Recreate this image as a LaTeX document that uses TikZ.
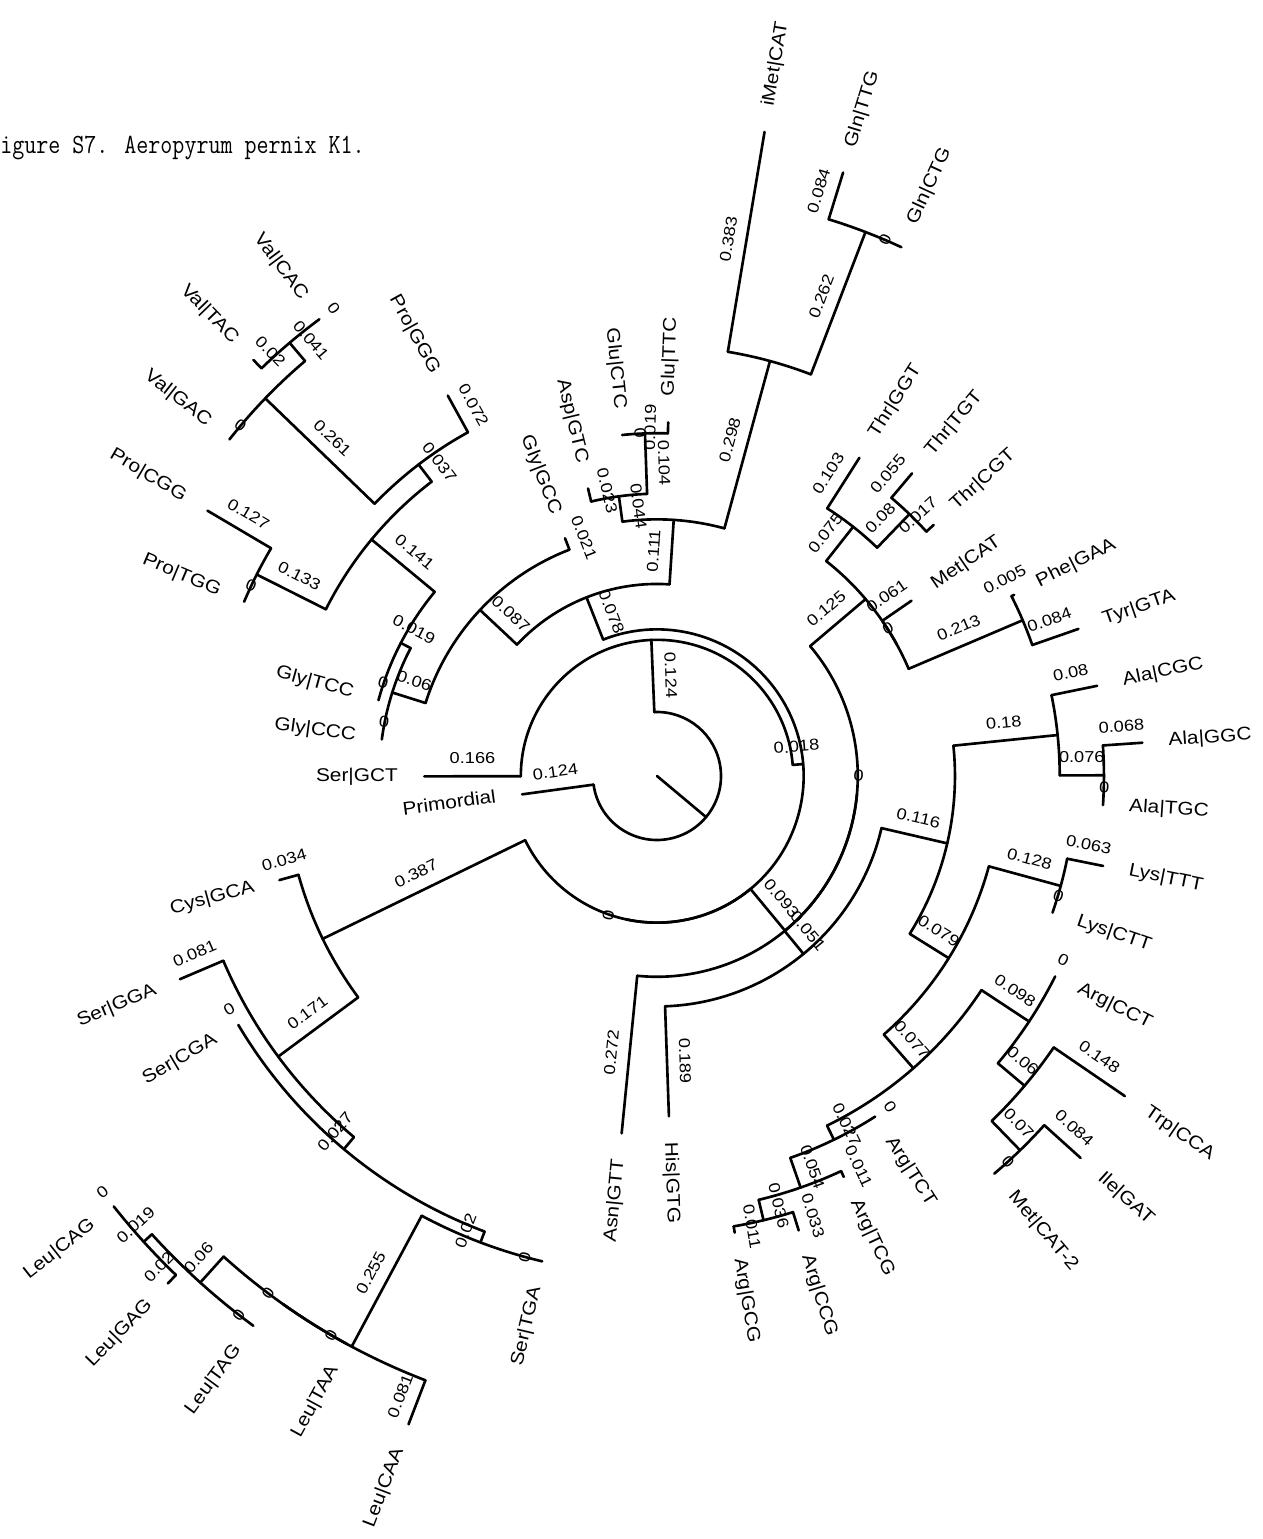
\documentclass[tikz,border=0pt]{standalone}
\usepackage{fontspec}
\usepackage{graphicx}
\setmainfont{Liberation Sans}
\newfontfamily\tipfont[FakeStretch=1.13]{Liberation Sans}
\newfontfamily\lenfont[FakeStretch=1.15]{Liberation Sans}
\usetikzlibrary{calc}

\tikzset{
  branch/.style={line width=1.5pt, line cap=round},
  tiplabel/.style={font=\tipfont\fontsize{10.5}{12}\selectfont, inner sep=0pt},
  lenlabel/.style={font=\lenfont\fontsize{9}{10}\selectfont, inner sep=0pt},
}

\begin{document}
\begin{tikzpicture}[x=0.2mm, y=0.2mm]
    \useasboundingbox (-657,-763) rectangle (606,776);
    % Title, cut at the left edge
    \node[anchor=base west, inner sep=0pt] (title) at (-657,622.7)
        {\scalebox{0.84}[1]{\ttfamily\fontsize{15.8}{18}\selectfont igure S7. Aeropyrum pernix K1.}};
    % Root edge
    \coordinate (root) at (0,0);
    \coordinate (Na) at (320.06:64);
    \draw[branch] (root) -- (Na);
    % Radial branches: name/angle/parent radius/child radius/length
    \foreach \n/\ang/\rp/\rc/\w in {
        Prim/187.75/64/136.17/0.124, B/452.38/64/136.17/0.124,
        SerGCT/540.09/136.17/232.78/0.166, C/364.67/136.17/146.65/0.018,
        G1/471.54/146.65/192.05/0.078, G2/446.26/192.05/256.65/0.111,
        IQ/434.77/256.65/430.09/0.298, iMet/440.52/430.09/653.00/0.383,
        GQ/429.03/430.09/582.57/0.262, GlnTTG/432.86/582.57/631.46/0.084,
        G3/457.75/256.65/282.26/0.044, GE/452.01/282.26/342.79/0.104,
        GluTTC/448.18/342.79/353.85/0.019, AspGTC/463.49/282.26/295.65/0.023,
        G4/496.83/192.05/242.68/0.087, GlyGCC/471.15/242.68/254.90/0.021,
        G5/522.50/242.68/277.60/0.06, G6/512.56/277.60/288.66/0.019,
        G7/500.36/288.66/370.72/0.141, PP/513.28/370.72/448.13/0.133,
        ProCGG/509.45/448.13/522.04/0.127, G8/487.43/370.72/392.25/0.037,
        ProGGG/478.81/392.25/434.15/0.072, Vg/496.05/392.25/544.15/0.261,
        VP/490.30/544.15/568.01/0.041, ValTAC/494.13/568.01/579.65/0.02,
        N1/205.97/146.65/371.88/0.387, CysGCA/195.41/371.88/391.67/0.034,
        N2/216.53/371.88/471.40/0.171, SerGGA/203.07/471.40/518.54/0.081,
        N3/230.00/471.40/487.11/0.027, N4/249.27/487.11/498.75/0.02,
        L1/241.85/498.75/647.16/0.255, LeuCAA/249.03/647.16/694.30/0.081,
        L2/227.96/647.16/682.08/0.06, L3/222.22/682.08/693.14/0.019,
        LeuGAG/226.05/693.14/704.78/0.02,
        V/309.61/146.65/200.78/0.093, AsnGTT/264.35/200.78/359.08/0.272,
        R/309.47/200.78/230.46/0.051, HisGTG/272.01/230.46/340.46/0.189,
        P/346.93/230.46/297.97/0.116, A1/365.84/297.97/402.73/0.18,
        AlaCGC/371.58/402.73/449.29/0.08, A2/360.09/402.73/446.96/0.076,
        AlaGGC/363.92/446.96/486.54/0.068, Q/328.02/297.97/343.95/0.079,
        LK/344.77/343.95/418.45/0.128, LysTTT/348.60/418.45/455.12/0.063,
        Q2/311.26/343.95/388.76/0.077, M1/326.58/388.76/445.80/0.098,
        M2/319.88/445.80/480.72/0.06, TrpCCA/325.62/480.72/566.86/0.148,
        M3/314.13/480.72/521.46/0.07, IleGAT/317.96/521.46/570.35/0.084,
        Ag1/295.94/388.76/404.47/0.027, Ag2/289.24/404.47/435.90/0.054,
        ArgTCG/294.98/435.90/442.30/0.011, Ag3/283.49/435.90/456.85/0.036,
        ArgGCG/279.66/456.85/463.25/0.011, ArgCCG/287.32/456.85/476.06/0.033,
        T1/400.30/200.78/273.53/0.125, PT/383.07/273.53/397.50/0.213,
        PheGAA/386.90/397.50/400.41/0.005, TyrGTA/379.24/397.50/446.39/0.084,
        MetCAT/394.56/273.53/309.03/0.061, Th1/411.79/273.53/317.18/0.075,
        ThrGGT/417.54/317.18/377.13/0.103, Th2/406.05/317.18/363.74/0.08,
        ThrTGT/409.88/363.74/395.75/0.055, ThrCGT/402.22/363.74/373.63/0.017} {
        \coordinate (\n-b) at (\ang:\rp);
        \coordinate (\n) at (\ang:\rc);
        \draw[branch] (\n-b) -- (\n);
        \pgfmathsetmacro{\rot}{cos(\ang)<0 ? \ang-180 : \ang}
        \path ($(\n-b)!0.5!(\n)$) ++(\rot+90:18) node[lenlabel, rotate=\rot] {\w};
    }
    % Zero-length branches: name/angle/radius
    \foreach \n/\ang/\rad in {
        C1/257.79/146.65, V2/354.88/200.78, T2/388.81/273.53, L1c/234.67/647.16,
        LeuCAG/218.39/693.14, LeuTAG/233.71/682.08, LeuTAA/241.37/647.16,
        SerCGA/210.73/487.11, SerTGA/256.69/498.75, GlyCCC/532.43/277.60,
        GlyTCC/524.77/288.66, ValGAC/501.79/544.15, ValCAC/486.47/568.01,
        ProTGG/517.11/448.13, GlnCTG/425.20/582.57, GluCTC/455.84/342.79,
        AlaTGC/356.26/446.96, LysCTT/340.94/418.45, ArgCCT/333.28/445.80,
        MetCATtwo/310.30/521.46, ArgTCT/302.64/404.47} {
        \coordinate (\n) at (\ang:\rad);
        \coordinate (\n-b) at (\n);
        \pgfmathsetmacro{\rot}{cos(\ang)<0 ? \ang-180 : \ang}
        \path (\n) ++(\rot+90:18) node[lenlabel, rotate=\rot] {0};
    }
    % Arcs of the inner nodes: first child/radius/from/to
    \foreach \c/\rad/\afrom/\ato in {
        Prim/64/187.75/452.38, C/136.17/364.67/540.09, C1/146.65/257.79/471.54,
        N1/146.65/205.97/309.61, CysGCA/371.88/195.41/216.53,
        SerGGA/471.40/203.07/230.00, SerCGA/487.11/210.73/249.27,
        L1/498.75/241.85/256.69, L1c/647.16/234.67/249.03,
        L2/647.16/227.96/241.37, L3/682.08/222.22/233.71,
        LeuCAG/693.14/218.39/226.05,
        AsnGTT/200.78/264.35/354.88, R/200.78/309.47/400.30,
        HisGTG/230.46/272.01/346.93, Q/297.97/328.02/365.84,
        A2/402.73/360.09/371.58, AlaTGC/446.96/356.26/363.92,
        Q2/343.95/311.26/344.77, LysCTT/418.45/340.94/348.60,
        Ag1/388.76/295.94/326.58, M2/445.80/319.88/333.28,
        M3/480.72/314.13/325.62, MetCATtwo/521.46/310.30/317.96,
        Ag2/404.47/289.24/302.64, Ag3/435.90/283.49/294.98,
        ArgGCG/456.85/279.66/287.32,
        T2/273.53/388.81/411.79, PT/273.53/383.07/394.56,
        TyrGTA/397.50/379.24/386.90, Th2/317.18/406.05/417.54,
        ThrCGT/363.74/402.22/409.88,
        G2/192.05/446.26/496.83, IQ/256.65/434.77/457.75,
        GQ/430.09/429.03/440.52, GlnCTG/582.57/425.20/432.86,
        GE/282.26/452.01/463.49, GluTTC/342.79/448.18/455.84,
        GlyGCC/242.68/471.15/522.50, G6/277.60/512.56/532.43,
        G7/288.66/500.36/524.77, G8/370.72/487.43/513.28,
        ProGGG/392.25/478.81/496.05, ProCGG/448.13/509.45/517.11,
        VP/544.15/490.30/501.79, ValCAC/568.01/486.47/494.13}
        \draw[branch] (\c-b) arc[start angle=\afrom, end angle=\ato, radius=\rad*0.2mm];
    % Tip labels on the right half
    \foreach \n/\ang/\txt in {
        HisGTG/272.01/His|GTG, ArgGCG/279.66/Arg|GCG, ArgCCG/287.32/Arg|CCG,
        ArgTCG/294.98/Arg|TCG, ArgTCT/302.64/Arg|TCT, MetCATtwo/310.30/Met|CAT-2,
        IleGAT/317.96/Ile|GAT, TrpCCA/325.62/Trp|CCA, ArgCCT/333.28/Arg|CCT,
        LysCTT/340.94/Lys|CTT, LysTTT/348.60/Lys|TTT, AlaTGC/356.26/Ala|TGC,
        AlaGGC/363.92/Ala|GGC, AlaCGC/371.58/Ala|CGC, TyrGTA/379.24/Tyr|GTA,
        PheGAA/386.90/Phe|GAA, MetCAT/394.56/Met|CAT, ThrCGT/402.22/Thr|CGT,
        ThrTGT/409.88/Thr|TGT, ThrGGT/417.54/Thr|GGT, GlnCTG/425.20/Gln|CTG,
        GlnTTG/432.86/Gln|TTG, iMet/440.52/iMet|CAT, GluTTC/448.18/Glu|TTC}
        \node[tiplabel, anchor=mid west, rotate=\ang] at ([shift={(\ang:26)}]\n) {\txt};
    % Tip labels on the left half
    \foreach \n/\ang/\txt in {
        Prim/187.75/Primordial, CysGCA/195.41/Cys|GCA, SerGGA/203.07/Ser|GGA,
        SerCGA/210.73/Ser|CGA, LeuCAG/218.39/Leu|CAG, LeuGAG/226.05/Leu|GAG,
        LeuTAG/233.71/Leu|TAG, LeuTAA/241.37/Leu|TAA, LeuCAA/249.03/Leu|CAA,
        SerTGA/256.69/Ser|TGA, AsnGTT/264.35/Asn|GTT, GluCTC/455.84/Glu|CTC,
        AspGTC/463.49/Asp|GTC, GlyGCC/471.15/Gly|GCC, ProGGG/478.81/Pro|GGG,
        ValCAC/486.47/Val|CAC, ValTAC/494.13/Val|TAC, ValGAC/501.79/Val|GAC,
        ProCGG/509.45/Pro|CGG, ProTGG/517.11/Pro|TGG, GlyTCC/524.77/Gly|TCC,
        GlyCCC/532.43/Gly|CCC, SerGCT/540.09/Ser|GCT}
        \node[tiplabel, anchor=mid east, rotate=\ang-180] at ([shift={(\ang:26)}]\n) {\txt};
\end{tikzpicture}
\end{document}
